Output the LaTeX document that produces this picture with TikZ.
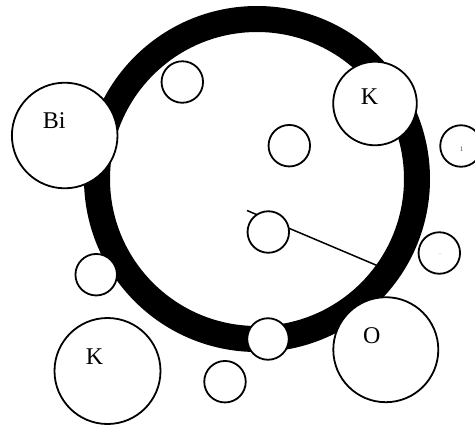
\documentclass[tikz,border=0pt]{standalone}
\usepackage{fontspec}
\setmainfont{Liberation Serif}
\begin{document}
\begin{tikzpicture}[x=1pt,y=-1pt,
  ball/.style={circle,draw=black,fill=white,line width=1.8pt,inner sep=0pt},
  small/.style={ball,minimum size=41.5pt},
  atomlabel/.style={anchor=base,inner sep=0pt,font=\fontsize{24}{28}\selectfont},
  tinymark/.style={inner sep=0pt,text=black!70}]
\useasboundingbox (0,0) rectangle (475,426);
% thick black ring
\draw[line width=26pt] (257,179) circle[radius=160];
% radius line, partly hidden behind the inner sphere
\coordinate (lstart) at (247,210.5);
\coordinate (lend) at (377,265.5);
\draw[line width=1.5pt] (lstart) -- (lend);
% spheres
\node[ball,minimum size=105.6pt] (bi) at (64.7,135.5) {};
\node[small] (s1) at (182.3,82) {};
\node[ball,minimum size=83.6pt] (ktop) at (375,103.5) {};
\node[small] (s2) at (289.3,145.7) {};
\node[small] (s3) at (461,146) {};
\node[small] (s4) at (268.3,232) {};
\node[small] (s5) at (439.3,253) {};
\node[small] (s6) at (96.2,274.7) {};
\node[small] (s7) at (268,339) {};
\node[ball,minimum size=106pt] (kbot) at (107.5,371) {};
\node[small] (s8) at (225,381.7) {};
\node[ball,minimum size=105pt] (o) at (385.8,349.7) {};
% labels
\node[atomlabel] (tbi) at (54.3,128.3) {Bi};
\node[atomlabel] (tktop) at (369.5,104) {K};
\node[atomlabel] (tkbot) at (94.5,364) {K};
\node[atomlabel] (to) at (371.7,343.5) {O};
\node[tinymark,font=\fontsize{7}{8}\selectfont,anchor=base] (m1) at (461.5,151.7) {1};
\node[tinymark,font=\fontsize{6}{7}\selectfont,anchor=base] (m2) at (440,254.5) {.};
\end{tikzpicture}
\end{document}
